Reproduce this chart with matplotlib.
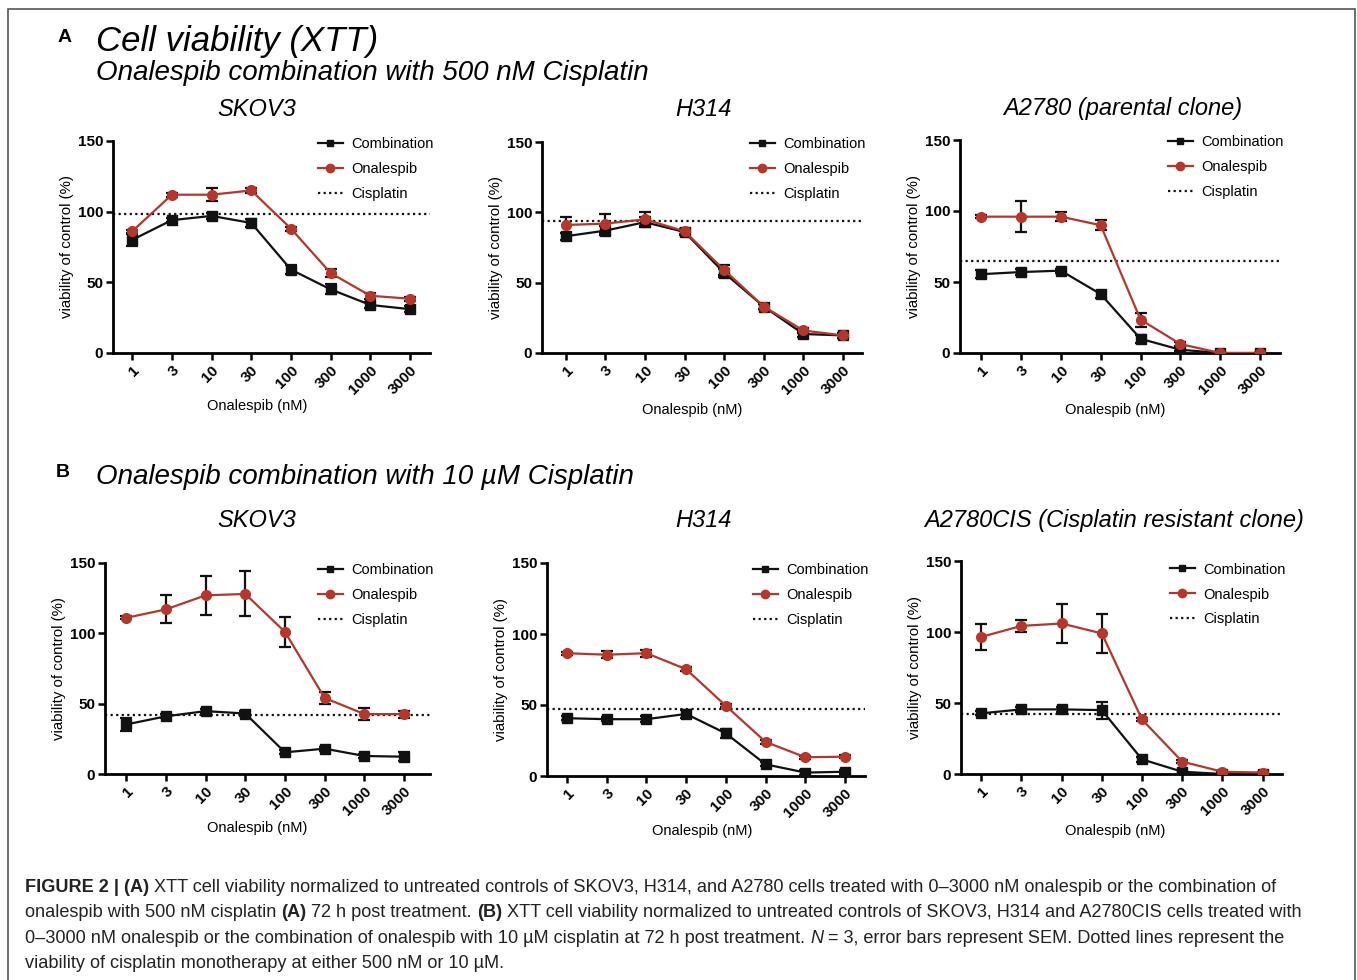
import numpy as np
import matplotlib
matplotlib.use("Agg")
import matplotlib.pyplot as plt
from matplotlib.lines import Line2D
from matplotlib.patches import Rectangle

plt.rcParams["font.family"] = ["Liberation Sans", "DejaVu Sans"]

W, H = 1357, 980

doses = ["1", "3", "10", "30", "100", "300", "1000", "3000"]

# --- panel A: 500 nM cisplatin ---
skov3_a_comb = [80, 94, 97, 92, 59, 45, 34, 31]
skov3_a_comb_err = [4, 1.5, 2, 3, 3, 3.5, 2, 2]
skov3_a_onal = [86, 112, 112, 115, 88, 56.5, 40.5, 38.4]
skov3_a_onal_err = [1, 1.5, 4.5, 1.5, 1.5, 3, 2, 1.5]
skov3_a_cis = 98

h314_a_comb = [83, 87, 93, 86, 57, 33, 13.5, 12.5]
h314_a_comb_err = [2.5, 3, 3.5, 2, 3, 2, 2, 2]
h314_a_onal = [91, 92, 95, 86.5, 59, 33, 16, 12.5]
h314_a_onal_err = [6, 6.5, 5, 2, 3.5, 2, 2, 2]
h314_a_cis = 94

a2780_comb = [55.5, 57, 58, 41.5, 10, 2.3, 0, 0]
a2780_comb_err = [3, 2, 1.5, 2.5, 3, 1, 0, 0]
a2780_onal = [96, 96, 96, 90, 23.5, 6.3, 0, 0]
a2780_onal_err = [1, 11, 3, 3.5, 5, 1.5, 0, 0]
a2780_cis = 65

# --- panel B: 10 uM cisplatin ---
skov3_b_comb = [35.2, 41, 44.7, 43, 15.4, 18, 12.8, 12.3]
skov3_b_comb_err = [4.5, 1.5, 1.5, 1.5, 1.5, 1.5, 1.5, 3]
skov3_b_onal = [111, 117, 127, 128, 101, 54, 42.6, 42.6]
skov3_b_onal_err = [1, 10, 14, 16, 10.5, 4, 4, 2.5]
skov3_b_cis = 41.6

h314_b_comb = [40.7, 40, 40, 43.7, 30, 8.2, 2.4, 3]
h314_b_comb_err = [1.5, 1.5, 2, 3, 3, 1.5, 1.5, 1.5]
h314_b_onal = [86.5, 85.4, 86.5, 75.2, 49.4, 24, 13.2, 13.6]
h314_b_onal_err = [1, 2.5, 2.5, 1.5, 1, 1.5, 1, 1]
h314_b_cis = 47

a2780cis_comb = [42.7, 45.5, 45.5, 45, 10.3, 1.6, 0, 0]
a2780cis_comb_err = [1.5, 2, 2, 6, 1.5, 1.5, 0, 0]
a2780cis_onal = [96.5, 104.3, 106, 99, 38.4, 8.7, 1.6, 1]
a2780cis_onal_err = [9, 4.5, 14, 14, 1, 1, 0.5, 0.5]
a2780cis_cis = 42.2

BLACK = "#111111"
RED = "#B5362A"


def px_axes(fig, box):
    left, top, right, bottom = box
    return fig.add_axes([left / W, 1 - bottom / H, (right - left) / W, (bottom - top) / H])


def draw_panel(ax, box, comb, comb_err, onal, onal_err, cis, xlim, xlab_px, leg_y):
    left, top, right, bottom = box
    x = np.arange(len(doses))
    ax.axhline(cis, color=BLACK, ls=(0, (1, 1.5)), lw=1.6, zorder=1)
    ax.errorbar(x, comb, yerr=comb_err, color=BLACK, lw=1.6, marker="s", ms=7,
                capsize=4, capthick=1.6, elinewidth=1.6, zorder=3)
    ax.errorbar(x, onal, yerr=onal_err, color=RED, ecolor=BLACK, lw=1.6, marker="o",
                ms=7, capsize=4, capthick=1.6, elinewidth=1.6, zorder=4)

    ax.set_xlim(*xlim)
    ax.set_ylim(0, 150)
    ax.set_yticks([0, 50, 100, 150])
    ax.set_xticks(x)
    ax.set_xticklabels(doses, rotation=45, ha="right", rotation_mode="anchor",
                       fontweight="bold", fontsize=11)
    for lab in ax.get_yticklabels():
        lab.set_fontweight("bold")
        lab.set_fontsize(11)
    for side in ["top", "right"]:
        ax.spines[side].set_visible(False)
    for side in ["left", "bottom"]:
        ax.spines[side].set_linewidth(2.0)
    ax.tick_params(width=1.8, length=5, direction="out", pad=2)
    ax.set_ylabel("viability of control (%)", fontsize=10.8, labelpad=3)

    # x label sits a little left of the axes centre, as in the original
    ax.set_xlabel("Onalespib (nM)", fontsize=10.5, va="center")
    ax.xaxis.set_label_coords((xlab_px[0] - left) / (right - left),
                              (bottom - xlab_px[1]) / (bottom - top))

    handles = [
        Line2D([], [], color=BLACK, lw=1.6, marker="s", ms=5),
        Line2D([], [], color=RED, lw=1.6, marker="o", ms=6),
        Line2D([], [], color=BLACK, lw=1.6, ls=(0, (1, 1.5))),
    ]
    ax.legend(handles, ["Combination", "Onalespib", "Cisplatin"], loc="upper right",
              bbox_to_anchor=(1.03, leg_y), frameon=False, fontsize=10.5,
              handlelength=1.7, handletextpad=0.6, labelspacing=0.75, borderaxespad=0)


fig = plt.figure(figsize=(W / 100, H / 100), dpi=100)

# frame
fig.patches.append(Rectangle((8 / W, -0.05), (1355 - 8) / W, 1.05 - 9 / H,
                             transform=fig.transFigure, fill=False,
                             edgecolor="#555555", lw=1.2))

box = (113, 141, 430, 353)
draw_panel(px_axes(fig, box), box, skov3_a_comb, skov3_a_comb_err, skov3_a_onal,
           skov3_a_onal_err, skov3_a_cis, (-0.48, 7.5), (257, 406), 1.045)
box = (542, 142, 862, 353)
draw_panel(px_axes(fig, box), box, h314_a_comb, h314_a_comb_err, h314_a_onal,
           h314_a_onal_err, h314_a_cis, (-0.6, 7.48), (692, 410), 1.05)
box = (960, 140, 1280, 353)
draw_panel(px_axes(fig, box), box, a2780_comb, a2780_comb_err, a2780_onal,
           a2780_onal_err, a2780_cis, (-0.53, 7.5), (1115, 410), 1.05)

box = (105, 563, 430, 774)
draw_panel(px_axes(fig, box), box, skov3_b_comb, skov3_b_comb_err, skov3_b_onal,
           skov3_b_onal_err, skov3_b_cis, (-0.53, 7.65), (257, 828), 1.028)
box = (547, 563, 865, 776)
draw_panel(px_axes(fig, box), box, h314_b_comb, h314_b_comb_err, h314_b_onal,
           h314_b_onal_err, h314_b_cis, (-0.5, 7.5), (702, 831), 1.028)
box = (961, 561, 1282, 774)
draw_panel(px_axes(fig, box), box, a2780cis_comb, a2780cis_comb_err, a2780cis_onal,
           a2780cis_onal_err, a2780cis_cis, (-0.5, 7.48), (1115, 831), 1.02)


def ftext(x, y, s, **kw):
    return fig.text(x / W, 1 - y / H, s, **kw)


# headings
ftext(65, 37, "A", fontsize=14, fontweight="bold", ha="center", va="center")
ftext(63, 472, "B", fontsize=14, fontweight="bold", ha="center", va="center")
ftext(96, 42, "Cell viability (XTT)", fontsize=25, style="italic", va="center")
ftext(96, 73, "Onalespib combination with 500 nM Cisplatin", fontsize=20, style="italic", va="center")
ftext(96, 477, "Onalespib combination with 10 µM Cisplatin", fontsize=20, style="italic", va="center")

titles_a = [(257, "SKOV3"), (703, "H314"), (1123, "A2780 (parental clone)")]
titles_b = [(257, "SKOV3"), (703, "H314"), (1114, "A2780CIS (Cisplatin resistant clone)")]
for xc, t in titles_a:
    ftext(xc, 109, t, fontsize=17, style="italic", ha="center", va="center")
for xc, t in titles_b:
    ftext(xc, 520, t, fontsize=17, style="italic", ha="center", va="center")

# caption, drawn piece by piece so bold / italic parts line up
renderer = fig.canvas.get_renderer()
CAP = 13.1
cap_lines = [
    (887, [("FIGURE 2 | (A)", "bold"), (" XTT cell viability normalized to untreated controls of SKOV3, H314, and A2780 cells treated with 0–3000 nM onalespib or the combination of", "normal")]),
    (912.5, [("onalespib with 500 nM cisplatin ", "normal"), ("(A)", "bold"), (" 72 h post treatment. ", "normal"), ("(B)", "bold"), (" XTT cell viability normalized to untreated controls of SKOV3, H314 and A2780CIS cells treated with", "normal")]),
    (938, [("0–3000 nM onalespib or the combination of onalespib with 10 µM cisplatin at 72 h post treatment. ", "normal"), ("N", "italic"), (" = 3, error bars represent SEM. Dotted lines represent the", "normal")]),
    (963, [("viability of cisplatin monotherapy at either 500 nM or 10 µM.", "normal")]),
]
for y, parts in cap_lines:
    x = 25
    for s, st in parts:
        kw = dict(fontsize=CAP, va="center", color="#222222")
        if st == "bold":
            kw["fontweight"] = "bold"
        elif st == "italic":
            kw["style"] = "italic"
        t = ftext(x, y, s, **kw)
        x += t.get_window_extent(renderer=renderer).width

fig.savefig("out.png", dpi=100)
